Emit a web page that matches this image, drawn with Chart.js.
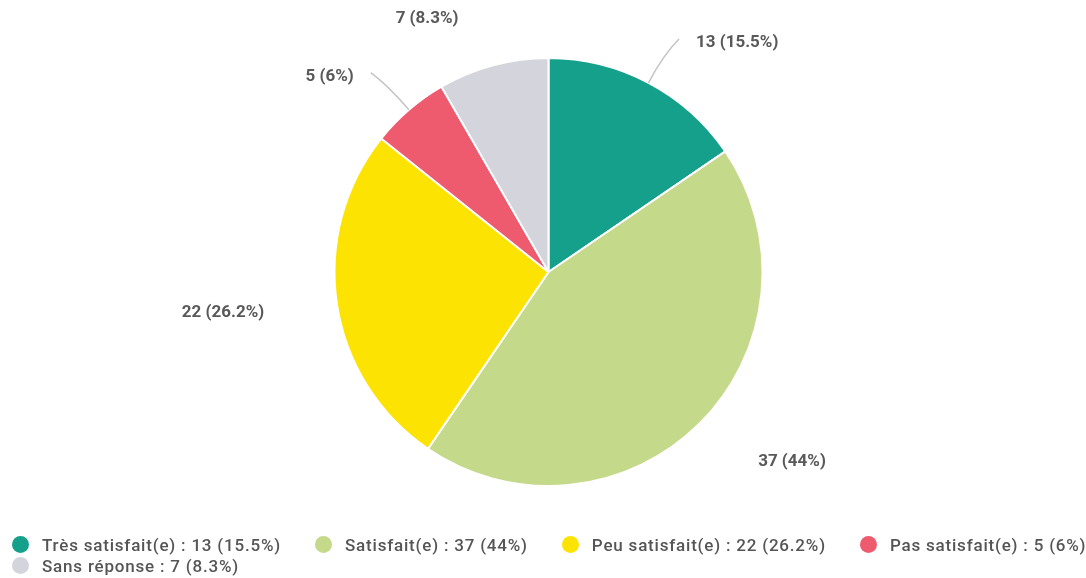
<!DOCTYPE html>
<html lang="fr">
<head>
<meta charset="utf-8">
<script src="https://cdn.jsdelivr.net/npm/chart.js@4/dist/chart.umd.min.js"></script>
<style>
  html, body { margin: 0; padding: 0; background: #fff; overflow: hidden; }
  #wrap { position: relative; width: 1086px; height: 578px; overflow: hidden; }
  #satisfactionChart { position: absolute; left: 0; top: 0; }
  #legend {
    position: absolute; left: 12px; top: 534px; width: 1080px;
    display: flex; flex-wrap: wrap; column-gap: 34px; row-gap: 0;
    font-family: Roboto, "Noto Sans", sans-serif; font-size: 17px; font-weight: 500;
    letter-spacing: 0.8px; color: #555;
  }
  #legend .item { display: flex; align-items: center; height: 21px; }
  #legend .dot { width: 17px; height: 17px; border-radius: 50%; margin-right: 13px; }
</style>
</head>
<body>
<div id="wrap">
  <canvas id="satisfactionChart" width="1086" height="578"></canvas>
  <div id="legend"></div>
</div>
<script>
const categories = ['Très satisfait(e)', 'Satisfait(e)', 'Peu satisfait(e)', 'Pas satisfait(e)', 'Sans réponse'];
const counts = [13, 37, 22, 5, 7];
const percents = ['15.5', '44', '26.2', '6', '8.3'];
const colors = ['#15a08b', '#c4d98a', '#fde302', '#ef5b6e', '#d4d4dc'];

// where each value label goes: angle nudge (deg), distance beyond the rim, leader line or not
const labelLayout = [
    { nudge: 1.4, dist: 53, leader: true },
    { nudge: -7, dist: 95, leader: false },
    { nudge: 1.4, dist: 114, leader: false },
    { nudge: -1, dist: 53, leader: true },
    { nudge: -10.6, dist: 67, leader: false }
];

const valueText = i => `${counts[i]} (${percents[i]}%)`;

const outsideLabels = {
    id: 'outsideLabels',
    afterDatasetsDraw(chart) {
        const ctx = chart.ctx;
        const arcs = chart.getDatasetMeta(0).data;
        ctx.save();
        ctx.font = 'bold 17px Roboto, "Noto Sans", sans-serif';
        ctx.fillStyle = '#595959';
        ctx.textBaseline = 'middle';
        arcs.forEach((arc, i) => {
            const { x, y, startAngle, endAngle, outerRadius } = arc.getProps(['x', 'y', 'startAngle', 'endAngle', 'outerRadius'], true);
            const mid = (startAngle + endAngle) / 2;
            const cfg = labelLayout[i];
            const a = mid + cfg.nudge * Math.PI / 180;
            const r = outerRadius + cfg.dist;
            const lx = x + Math.cos(a) * r;
            const ly = y + Math.sin(a) * r;
            if (cfg.leader) {
                const sx = x + Math.cos(mid) * outerRadius;
                const sy = y + Math.sin(mid) * outerRadius;
                const cx = x + Math.cos(mid) * (outerRadius + cfg.dist * 0.6);
                const cy = y + Math.sin(mid) * (outerRadius + cfg.dist * 0.6);
                ctx.strokeStyle = '#c4c4c4';
                ctx.lineWidth = 1.5;
                ctx.beginPath();
                ctx.moveTo(sx, sy);
                ctx.quadraticCurveTo(cx, cy, lx, ly);
                ctx.stroke();
                const right = Math.cos(mid) >= 0;
                ctx.textAlign = right ? 'left' : 'right';
                ctx.fillText(valueText(i), lx + (right ? 17 : -17), ly + 4);
            } else {
                ctx.textAlign = 'center';
                ctx.fillText(valueText(i), lx, ly);
            }
        });
        ctx.restore();
    }
};

const ctxPie = document.getElementById('satisfactionChart').getContext('2d');
const chart = new Chart(ctxPie, {
    type: 'pie',
    data: {
        labels: categories,
        datasets: [{
            data: counts,
            backgroundColor: colors,
            borderColor: '#fff',
            borderWidth: 2
        }]
    },
    options: {
        responsive: false,
        animation: false,
        layout: {
            padding: { top: 57, bottom: 91, left: 11, right: 0 }
        },
        plugins: {
            legend: { display: false },
            tooltip: { enabled: false }
        }
    },
    plugins: [outsideLabels]
});

// legend below the pie, built from the same arrays
const legendEl = document.getElementById('legend');
categories.forEach((name, i) => {
    const item = document.createElement('div');
    item.className = 'item';
    const dot = document.createElement('span');
    dot.className = 'dot';
    dot.style.background = colors[i];
    const txt = document.createElement('span');
    txt.textContent = `${name} : ${valueText(i)}`;
    item.appendChild(dot);
    item.appendChild(txt);
    legendEl.appendChild(item);
});
</script>
</body>
</html>
